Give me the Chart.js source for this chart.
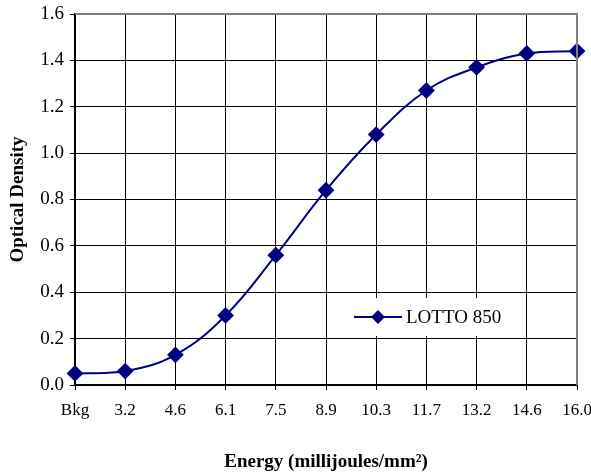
<!DOCTYPE html>
<html><head><meta charset="utf-8">
<script src="https://cdn.jsdelivr.net/npm/chart.js@4"></script>
<style>html,body{margin:0;padding:0;background:#fff;}canvas{display:block;}</style>
</head><body>
<canvas id="c" width="591" height="473"></canvas>
<script>
const categories = ['Bkg','3.2','4.6','6.1','7.5','8.9','10.3','11.7','13.2','14.6','16.0'];
const lotto850 = [0.05,0.06,0.13,0.30,0.56,0.84,1.08,1.27,1.37,1.43,1.44];
const seriesName = 'LOTTO 850';
const yTitle = 'Optical Density';
const xTitle = 'Energy (millijoules/mm\u00B2)';
const NAVY = '#000080';
const FONT = "'Liberation Serif','Times New Roman',serif";

const frame = {
  id:'frame',
  afterDatasetsDraw(chart){
    const {ctx, chartArea:a} = chart;
    ctx.save();
    ctx.strokeStyle='#808080'; ctx.lineWidth=2;
    ctx.beginPath();
    ctx.moveTo(a.left, a.top); ctx.lineTo(a.right, a.top); ctx.lineTo(a.right, a.bottom);
    ctx.stroke();
    const lx=342, ly=298, lw=162, lh=38;
    ctx.fillStyle='#fff'; ctx.fillRect(lx,ly,lw,lh);
    const cy=ly+lh/2;
    ctx.strokeStyle=NAVY; ctx.lineWidth=2;
    ctx.beginPath(); ctx.moveTo(354,cy); ctx.lineTo(402,cy); ctx.stroke();
    ctx.fillStyle=NAVY;
    ctx.beginPath(); ctx.moveTo(378,cy-7); ctx.lineTo(385,cy); ctx.lineTo(378,cy+7); ctx.lineTo(371,cy); ctx.closePath(); ctx.fill();
    ctx.fillStyle='#000'; ctx.font='19px '+FONT; ctx.textBaseline='middle'; ctx.textAlign='left';
    ctx.fillText(seriesName, 406, cy+1);
    ctx.restore();
  }
};

new Chart(document.getElementById('c'), {
  type:'line',
  data:{labels:categories, datasets:[{
    label:seriesName, data:lotto850, borderColor:NAVY, backgroundColor:NAVY,
    borderWidth:2, tension:0.4, pointStyle:'rectRot', pointRadius:7, pointHoverRadius:7,
    pointBackgroundColor:NAVY, pointBorderColor:NAVY, clip:false
  }]},
  options:{
    responsive:false, animation:false, devicePixelRatio:1,
    layout:{padding:{left:0,right:14,top:14,bottom:0}},
    plugins:{legend:{display:false}, tooltip:{enabled:false}},
    scales:{
      x:{
        offset:false,
        grid:{color:'#000', lineWidth:1, tickLength:5, tickColor:'#000', drawOnChartArea:true},
        border:{color:'#000', width:2},
        ticks:{color:'#000', font:{family:FONT, size:17}, padding:10, maxRotation:0, autoSkip:false},
        title:{display:true, text:xTitle, color:'#000', font:{family:FONT, size:19, weight:'bold'}, padding:{top:0,bottom:0}},
        afterFit(s){ s.height = 473-385; s.paddingRight = 0; s.paddingLeft = 0; }
      },
      y:{
        min:0, max:1.6,
        grid:{color:'#000', lineWidth:1, tickLength:5, tickColor:'#000'},
        border:{color:'#000', width:2},
        ticks:{stepSize:0.2, color:'#000', font:{family:FONT, size:19}, padding:6, callback:v=>Number(v).toFixed(1)},
        title:{display:true, text:yTitle, color:'#000', font:{family:FONT, size:19, weight:'bold'}, padding:{top:7,bottom:0}},
        afterFit(s){ s.width = 75; s.paddingTop = 0; s.paddingBottom = 0; }
      }
    }
  },
  plugins:[frame]
});
</script>
</body></html>
